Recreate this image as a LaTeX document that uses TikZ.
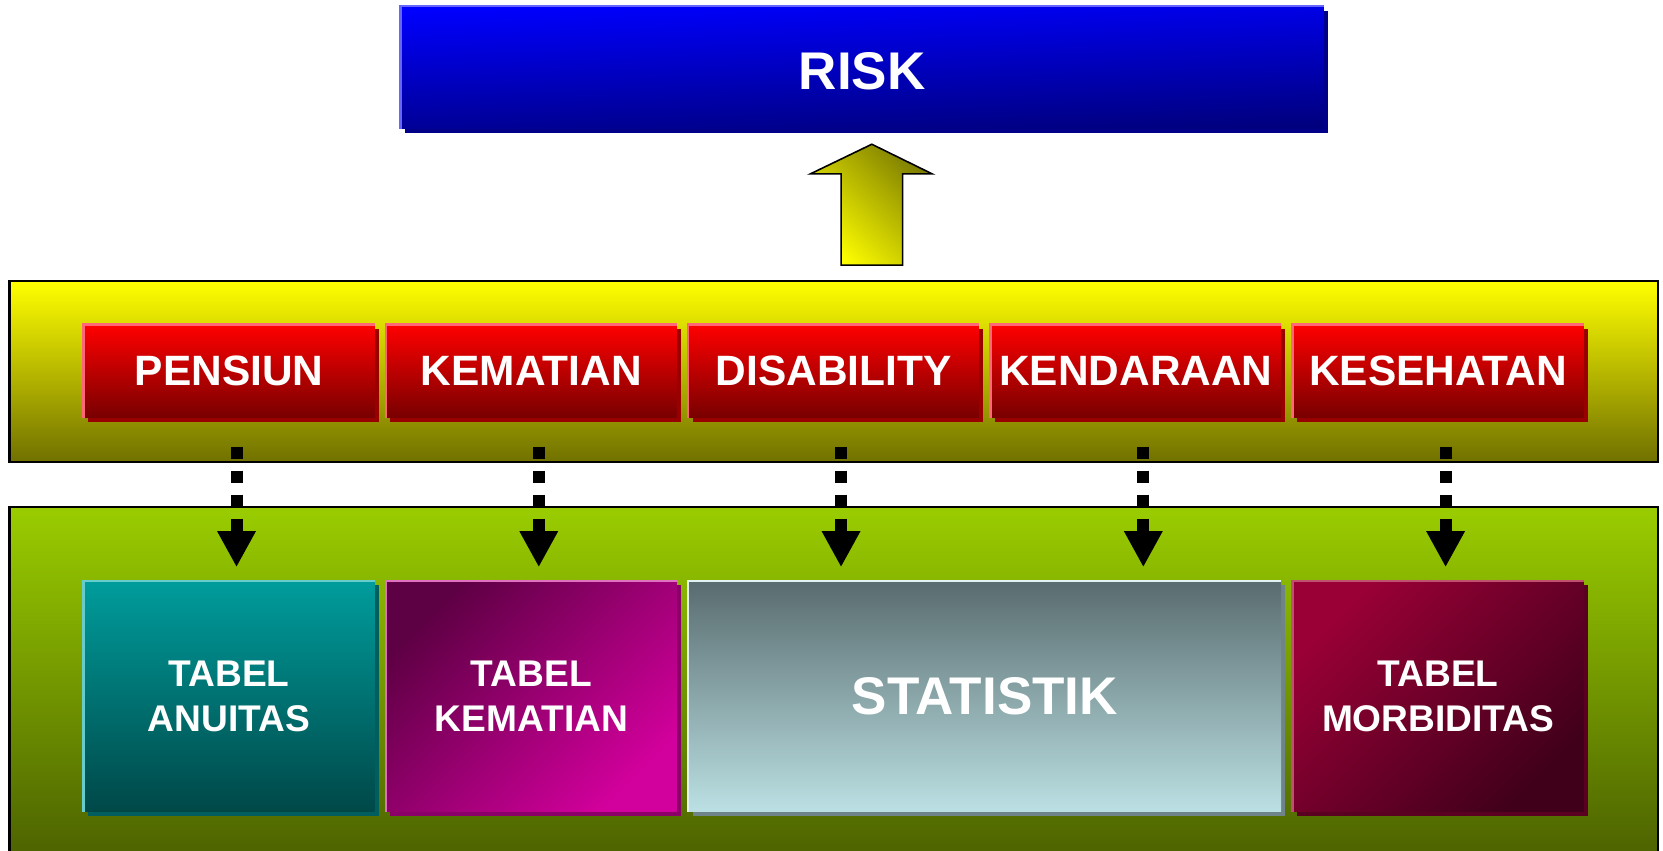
\documentclass[tikz,border=0pt]{standalone}
\usepackage{fontspec}
\setmainfont{Liberation Sans}
\usetikzlibrary{shadows,arrows.meta}
\definecolor{riskA}{HTML}{0000FF}
\definecolor{riskB}{HTML}{00007E}
\definecolor{riskHL}{HTML}{6666FF}
\definecolor{riskSH}{HTML}{000088}
\definecolor{yelA}{HTML}{FFFF00}
\definecolor{yelB}{HTML}{707000}
\definecolor{grnA}{HTML}{9ACD00}
\definecolor{grnB}{HTML}{4A5F00}
\definecolor{redA}{HTML}{FF0000}
\definecolor{redB}{HTML}{780000}
\definecolor{redHL}{HTML}{FF6677}
\definecolor{redSH}{HTML}{990000}
\definecolor{tealA}{HTML}{009C9C}
\definecolor{tealB}{HTML}{004848}
\definecolor{tealHL}{HTML}{66CCCC}
\definecolor{tealSH}{HTML}{005E5E}
\definecolor{purA}{HTML}{5E0044}
\definecolor{purB}{HTML}{D2009C}
\definecolor{purHL}{HTML}{E070C0}
\definecolor{purSH}{HTML}{8A0068}
\definecolor{statA}{HTML}{596C6F}
\definecolor{statB}{HTML}{BBE0E3}
\definecolor{statHL}{HTML}{E2F2F2}
\definecolor{statSH}{HTML}{6E8489}
\definecolor{morA}{HTML}{9A0036}
\definecolor{morB}{HTML}{40001A}
\definecolor{morHL}{HTML}{C05070}
\definecolor{morSH}{HTML}{5A0020}
\definecolor{arrA}{HTML}{FFFF00}
\definecolor{arrB}{HTML}{7E7E00}
\tikzset{
  panel/.style={rectangle, draw=black, line width=2pt, inner sep=0pt, shading angle=45},
  redbox/.style={rectangle, inner sep=0pt, minimum width=274pt, minimum height=88pt,
    top color=redA, bottom color=redB, text=white,
    font=\bfseries\fontsize{40}{40}\selectfont,
    general shadow={fill=redSH, shadow xshift=4pt, shadow yshift=-4pt}},
  lowbox/.style={rectangle, inner sep=0pt, minimum height=217pt, text=white, align=center,
    font=\bfseries\fontsize{35}{43}\selectfont},
  hl/.style={line width=2.5pt, draw=#1},
  dotarrow/.style={line width=11.3pt, dash pattern=on 11.3pt off 11.3pt,
    -{Triangle[width=34pt,length=34pt]}, shorten <=27pt, shorten >=13pt},
}
\begin{document}
\begin{tikzpicture}[x=1pt,y=-1pt]
\useasboundingbox (0,0) rectangle (1568,802);
\fill[white] (0,0) rectangle (1568,802);
% panels
\node[panel, top color=yelA, bottom color=yelB, minimum width=1554pt, minimum height=171pt] (yp) at (786,350.5) {};
\node[panel, top color=grnA, bottom color=grnB, minimum width=1554pt, minimum height=340pt] (gp) at (786,648) {};
% RISK
\node[rectangle, inner sep=0pt, minimum width=870pt, minimum height=115pt,
  top color=riskA, bottom color=riskB, shading angle=2, text=white,
  text height=42pt, text depth=0pt,
  font=\bfseries\fontsize{50}{50}\selectfont,
  general shadow={fill=riskSH, shadow xshift=4pt, shadow yshift=-4pt}] (risk) at (813,63.5) {RISK};
\draw[hl=riskHL] (risk.south west) -- (risk.north west) -- (risk.north east);
% block arrow
\path[draw=black, line width=1.5pt, top color=arrB, bottom color=arrA, shading angle=-45]
  (822,136) -- (879,164) -- (851,164) -- (851,250) -- (793,250) -- (793,164) -- (764,164) -- cycle;
% red boxes
\node[redbox] (p1) at (216,350) {PENSIUN};
\node[redbox] (p2) at (501,350) {KEMATIAN};
\node[redbox] (p3) at (786,350) {DISABILITY};
\node[redbox] (p4) at (1071,350) {KENDARAAN};
\node[redbox] (p5) at (1356,350) {KESEHATAN};
\foreach \n in {p1,p2,p3,p4,p5}{
  \draw[hl=redHL] (\n.south west) -- (\n.north west) -- (\n.north east);
}
% lower boxes
\node[lowbox, minimum width=274pt, top color=tealA, bottom color=tealB,
  general shadow={fill=tealSH, shadow xshift=4pt, shadow yshift=-4pt}] (b1) at (216,656.5) {TABEL\\ANUITAS};
\node[lowbox, minimum width=274pt, top color=purA, bottom color=purB, shading angle=45,
  general shadow={fill=purSH, shadow xshift=4pt, shadow yshift=-4pt}] (b2) at (501,656.5) {TABEL\\KEMATIAN};
\node[lowbox, minimum width=559pt, top color=statA, bottom color=statB,
  font=\bfseries\fontsize{50}{50}\selectfont,
  general shadow={fill=statSH, shadow xshift=4pt, shadow yshift=-4pt}] (b3) at (928.5,656.5) {STATISTIK};
\node[lowbox, minimum width=274pt, top color=morA, bottom color=morB, shading angle=45,
  general shadow={fill=morSH, shadow xshift=4pt, shadow yshift=-4pt}] (b4) at (1356,656.5) {TABEL\\MORBIDITAS};
\draw[hl=tealHL] (b1.south west) -- (b1.north west) -- (b1.north east);
\draw[hl=purHL] (b2.south west) -- (b2.north west) -- (b2.north east);
\draw[hl=statHL] (b3.south west) -- (b3.north west) -- (b3.north east);
\draw[hl=morHL] (b4.south west) -- (b4.north west) -- (b4.north east);
% dotted arrows
\coordinate (s1) at ([xshift=7pt]p1.south); \coordinate (e1) at (s1 |- b1.north);
\coordinate (s2) at ([xshift=7pt]p2.south); \coordinate (e2) at (s2 |- b2.north);
\coordinate (s3) at ([xshift=7pt]p3.south); \coordinate (e3) at (s3 |- b3.north);
\coordinate (s4) at ([xshift=7pt]p4.south); \coordinate (e4) at (s4 |- b3.north);
\coordinate (s5) at ([xshift=7pt]p5.south); \coordinate (e5) at (s5 |- b4.north);
\foreach \i in {1,...,5}{
  \draw[dotarrow] (s\i) -- (e\i);
}
\end{tikzpicture}
\end{document}
